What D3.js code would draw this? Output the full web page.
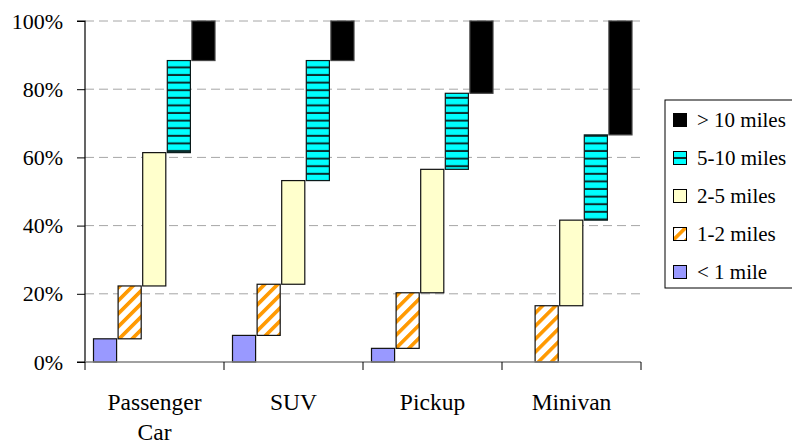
<!DOCTYPE html>
<html><head><meta charset="utf-8">
<script src="https://cdn.jsdelivr.net/npm/d3@7/dist/d3.min.js"></script>
<style>
body{margin:0;background:#fff;}
svg{display:block;}
</style>
</head><body>
<script>
const categories = ["Passenger Car", "SUV", "Pickup", "Minivan"];
const seriesNames = ["< 1 mile", "1-2 miles", "2-5 miles", "5-10 miles", "> 10 miles"];
const lessThan1 = [6.8, 7.8, 4.0, 0];
const oneToTwo = [15.5, 15.0, 16.3, 16.5];
const twoToFive = [39.1, 30.4, 36.2, 25.1];
const fiveToTen = [27.0, 35.2, 22.3, 25.0];
const moreThan10 = [11.6, 11.6, 21.2, 33.4];
const yTicks = [0, 20, 40, 60, 80, 100];
const seriesValues = [lessThan1, oneToTwo, twoToFive, fiveToTen, moreThan10];

const W = 792, H = 445;
const svg = d3.select("body").append("svg").attr("width", W).attr("height", H);
const FONT = "Liberation Serif, Times New Roman, serif";

const plot = {left: 85, right: 641, top: 21, bottom: 362};
const x = d3.scaleBand().domain(categories).range([plot.left, plot.right]).padding(0);
const y = d3.scaleLinear().domain([0, 100]).range([plot.bottom, plot.top]);
const xs = d3.scaleBand().domain(seriesNames).range([8, x.bandwidth() - 8]).padding(0);

// patterns
const defs = svg.append("defs");
const hatch = defs.append("pattern").attr("id", "hatch").attr("patternUnits", "userSpaceOnUse")
  .attr("width", 9.2).attr("height", 9.2).attr("patternTransform", "rotate(45)");
hatch.append("rect").attr("width", 9.2).attr("height", 9.2).attr("fill", "#fff");
hatch.append("rect").attr("width", 3.6).attr("height", 9.2).attr("fill", "#FF9900");
const hstripe = defs.append("pattern").attr("id", "hstripe").attr("patternUnits", "userSpaceOnUse")
  .attr("width", 10).attr("height", 7.6);
hstripe.append("rect").attr("width", 10).attr("height", 7.6).attr("fill", "#00FFFF");
hstripe.append("rect").attr("y", 5.6).attr("width", 10).attr("height", 2).attr("fill", "#0a2e2e");

const fills = ["#9999FF", "url(#hatch)", "#FFFFCC", "url(#hstripe)", "#000000"];
const strokes = ["#111", "#111", "#111", "#0a1a1a", "#444"];

// gridlines
svg.append("g").selectAll("line").data(yTicks.filter(d => d > 0)).join("line")
  .attr("x1", plot.left).attr("x2", plot.right - 1)
  .attr("y1", d => y(d)).attr("y2", d => y(d))
  .attr("stroke", "#a6a6a6").attr("stroke-width", 1).attr("stroke-dasharray", "9,5");

// bars (floating, cumulative)
categories.forEach((c, ci) => {
  let base = 0;
  seriesValues.forEach((vals, si) => {
    const v = vals[ci];
    const top = base + v;
    if (v > 0) {
      svg.append("rect")
        .attr("x", x(c) + xs(seriesNames[si]) + 0.5)
        .attr("y", y(top))
        .attr("width", xs.bandwidth() - 1.5)
        .attr("height", y(base) - y(top))
        .attr("fill", fills[si])
        .attr("stroke", strokes[si]).attr("stroke-width", 1.2);
    }
    base = top;
  });
});

// y axis
const yAxis = d3.axisLeft(y).tickValues(yTicks).tickFormat(d => d + "%").tickSize(8).tickPadding(14);
const gy = svg.append("g").attr("transform", `translate(${plot.left},0)`).call(yAxis);
gy.attr("font-family", FONT).attr("font-size", 22);
gy.select(".domain").attr("stroke", "#000").attr("d", `M-8,${plot.top}H0V${plot.bottom}H-8`).attr("stroke-width", 1.2);
gy.selectAll(".tick line").attr("stroke", "#000");
gy.selectAll("text").attr("fill", "#000");

// x axis
svg.append("line").attr("x1", plot.left).attr("x2", plot.right).attr("y1", plot.bottom).attr("y2", plot.bottom)
  .attr("stroke", "#808080").attr("stroke-width", 1.5);
const bounds = categories.map(c => x(c)).concat([x(categories[categories.length - 1]) + x.bandwidth()]);
svg.append("g").selectAll("line").data(bounds).join("line")
  .attr("x1", d => d).attr("x2", d => d).attr("y1", plot.bottom).attr("y2", plot.bottom + 8)
  .attr("stroke", "#000").attr("stroke-width", 1);
const xl = svg.append("g").attr("font-family", FONT).attr("font-size", 23.5)
  .selectAll("text").data(categories).join("text")
  .attr("x", d => x(d) + x.bandwidth() / 2)
  .attr("y", 410)
  .attr("text-anchor", "middle").attr("fill", "#000");
xl.each(function(d) {
  const words = d === "Passenger Car" ? ["Passenger", "Car"] : [d];
  const t = d3.select(this);
  words.forEach((w, i) => {
    t.append("tspan").attr("x", x(d) + x.bandwidth() / 2).attr("dy", i === 0 ? 0 : 30).text(w);
  });
});

// legend
const lg = svg.append("g").attr("font-family", FONT).attr("font-size", 21);
lg.append("rect").attr("x", 665).attr("y", 100).attr("width", 140).attr("height", 188)
  .attr("fill", "#fff").attr("stroke", "#000").attr("stroke-width", 1);
const legendOrder = [4, 3, 2, 1, 0];
legendOrder.forEach((si, i) => {
  const cy = 120 + i * 38;
  lg.append("rect").attr("x", 673.5).attr("y", cy - 6.5).attr("width", 13).attr("height", 13)
    .attr("fill", si === 3 ? "#00FFFF" : fills[si]).attr("stroke", "#000").attr("stroke-width", 1);
  if (si === 3) {
    lg.append("line").attr("x1", 674).attr("x2", 686).attr("y1", cy).attr("y2", cy)
      .attr("stroke", "#0a2e2e").attr("stroke-width", 2);
  }
  lg.append("text").attr("x", 697).attr("y", cy).attr("dy", "0.35em")
    .attr("fill", "#000").text(seriesNames[si]);
});
</script>
</body></html>
